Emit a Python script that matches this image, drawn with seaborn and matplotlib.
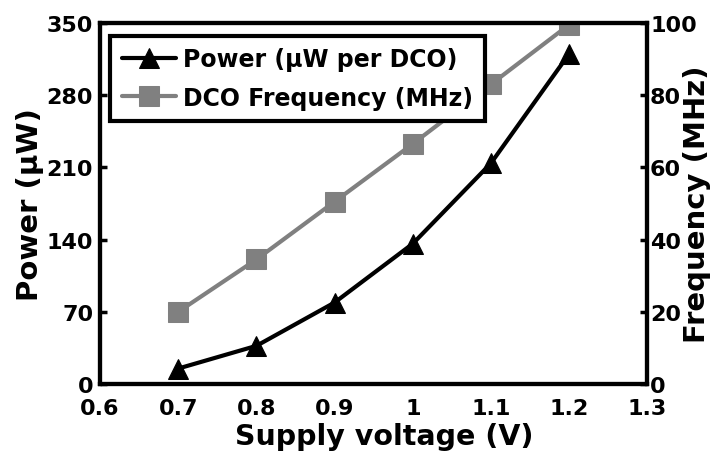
import matplotlib
matplotlib.use("Agg")
import matplotlib.pyplot as plt
import seaborn as sns
import numpy as np

voltage = [0.7, 0.8, 0.9, 1.0, 1.1, 1.2]
power_uw = [15, 37, 79, 136, 214, 320]
freq_mhz = [20, 34.5, 50.5, 66.5, 83, 99.5]

x_ticks = [0.6, 0.7, 0.8, 0.9, 1.0, 1.1, 1.2, 1.3]
x_tick_labels = ["0.6", "0.7", "0.8", "0.9", "1", "1.1", "1.2", "1.3"]
power_ticks = [0, 70, 140, 210, 280, 350]
freq_ticks = [0, 20, 40, 60, 80, 100]

sns.set_style("white")
plt.rcParams["font.family"] = ["DejaVu Sans"]
plt.rcParams["font.weight"] = "bold"
plt.rcParams["text.color"] = "black"
plt.rcParams["axes.labelcolor"] = "black"

fig = plt.figure(figsize=(7.2, 4.6), dpi=100)
ax = fig.add_axes([0.139, 0.163, 0.760, 0.785])
ax2 = ax.twinx()

sns.lineplot(x=voltage, y=power_uw, ax=ax, color="black", linewidth=3,
             marker="^", markersize=14, markeredgecolor="black",
             label="Power (\u00b5W per DCO)", legend=False)
sns.lineplot(x=voltage, y=freq_mhz, ax=ax2, color="#808080", linewidth=3,
             marker="s", markersize=14, markeredgecolor="#808080",
             label="DCO Frequency (MHz)", legend=False)

ax.set_xlim(0.6, 1.3)
ax.set_ylim(0, 350)
ax2.set_ylim(0, 100)
ax.set_xticks(x_ticks)
ax.set_xticklabels(x_tick_labels)
ax.set_yticks(power_ticks)
ax2.set_yticks(freq_ticks)

for a in (ax, ax2):
    for s in a.spines.values():
        s.set_linewidth(3)
        s.set_color("black")
    a.tick_params(direction="in", length=5, width=2.5, labelsize=16,
                  colors="black")
    for lbl in a.get_xticklabels() + a.get_yticklabels():
        lbl.set_fontweight("bold")
ax.tick_params(axis="x", top=False, pad=10)
ax.tick_params(axis="y", pad=5)
ax2.tick_params(axis="y", pad=2)

ax.set_xlabel("Supply voltage (V)", fontsize=20.5, fontweight="bold",
              labelpad=3, x=0.519, color="black")
ax.set_ylabel("Power (\u00b5W)", fontsize=21, fontweight="bold", labelpad=2,
              color="black")
ax2.set_ylabel("Frequency (MHz)", fontsize=21, fontweight="bold",
               labelpad=-10, color="black")

h1, l1 = ax.get_legend_handles_labels()
h2, l2 = ax2.get_legend_handles_labels()
leg = ax2.legend(h1 + h2, l1 + l2, loc="upper left",
                 bbox_to_anchor=(0.018, 0.965), borderaxespad=0,
                 prop={"size": 17, "weight": "bold"}, frameon=True,
                 fancybox=False, framealpha=1, handlelength=2.3,
                 handletextpad=0.3, borderpad=0.5, labelspacing=0.6)
leg.get_frame().set_edgecolor("black")
leg.get_frame().set_linewidth(3)
for t in leg.get_texts():
    t.set_color("black")

fig.savefig("out.png", dpi=100)
